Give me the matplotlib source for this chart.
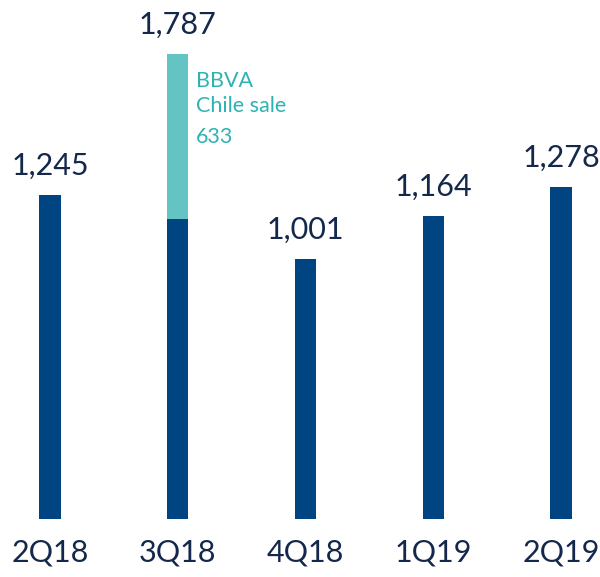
import matplotlib
matplotlib.use("Agg")
import matplotlib.pyplot as plt

# Quarterly values (millions)
quarters = ["2Q18", "3Q18", "4Q18", "1Q19", "2Q19"]
totals = [1245, 1787, 1001, 1164, 1278]
chile_sale = [0, 633, 0, 0, 0]
chile_label = ["BBVA", "Chile sale", "633"]

navy = "#004481"
teal = "#64C4C4"
teal_text = "#2DB3B3"
label_color = "#14284B"

plt.rcParams['font.family'] = ['Lato', 'DejaVu Sans']

base = [t - c for t, c in zip(totals, chile_sale)]
xs = list(range(len(quarters)))

fig = plt.figure(figsize=(6.0, 5.77), dpi=100)
ax = fig.add_axes([0, 1 - 519 / 577, 1, 519 / 577])

ax.bar(xs, base, width=0.168, color=navy)
ax.bar(xs, chile_sale, bottom=base, width=0.168, color=teal)

for x, t in zip(xs, totals):
    ax.annotate("{:,}".format(t), (x, t), xytext=(0, 11), textcoords="offset points",
                ha="center", va="bottom", fontsize=22, color=label_color)

# note beside the Chile sale segment
i = chile_sale.index(max(chile_sale))
ax.annotate(chile_label[0] + "\n" + chile_label[1], (i, totals[i]), xytext=(13, -12),
            textcoords="offset points", ha="left", va="top", fontsize=15.5,
            color=teal_text, linespacing=1.3)
ax.annotate(chile_label[2], (i, totals[i]), xytext=(13, -52),
            textcoords="offset points", ha="left", va="top", fontsize=15.5,
            color=teal_text)

for x, q in zip(xs, quarters):
    ax.text(x, -75, q, ha="center", va="top", fontsize=22, color=label_color,
            clip_on=False)

ax.set_xlim(-0.391, 4.305)
ax.set_ylim(0, 1996)
ax.axis("off")

fig.savefig("out.png", dpi=100)
